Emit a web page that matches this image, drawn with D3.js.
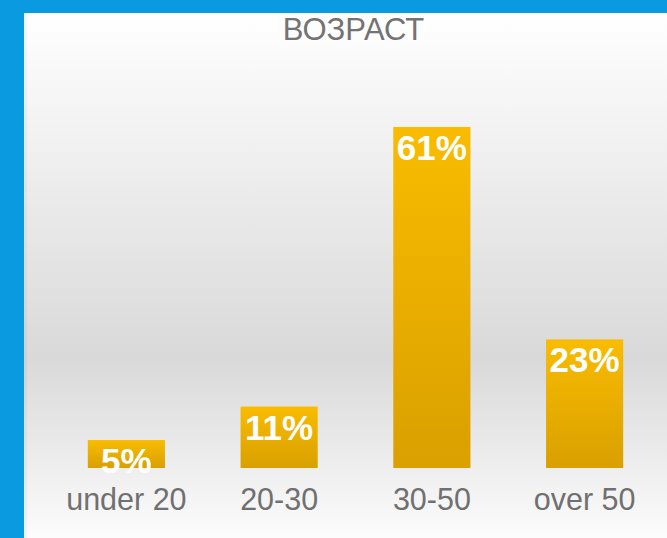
<!DOCTYPE html>
<html>
<head>
<meta charset="utf-8">
<script src="https://cdn.jsdelivr.net/npm/d3@7"></script>
<style>
    body { margin: 0; background: #0a9ae0; }
    svg { display: block; }
</style>
</head>
<body>
<div id="chart"></div>
<script>
// Chart data
var title = "ВОЗРАСТ";
var categories = ["under 20", "20-30", "30-50", "over 50"];
var values = [5, 11, 61, 23];
var valueLabels = ["5%", "11%", "61%", "23%"];

(function() {
    var width = 667, height = 538;
    var panel = { left: 24, top: 13 };

    var svg = d3.select("#chart").append("svg")
        .attr("width", width)
        .attr("height", height);

    var defs = svg.append("defs");

    // Panel background: white -> grey -> white
    var bg = defs.append("linearGradient")
        .attr("id", "bgGrad")
        .attr("x1", 0).attr("y1", 0).attr("x2", 0).attr("y2", 1);
    bg.append("stop").attr("offset", "0%").attr("stop-color", "#ffffff");
    bg.append("stop").attr("offset", "66%").attr("stop-color", "#d9d9d9");
    bg.append("stop").attr("offset", "100%").attr("stop-color", "#fcfcfc");

    // Bar fill: bright amber at top, darker at bottom
    var barGrad = defs.append("linearGradient")
        .attr("id", "barGrad")
        .attr("x1", 0).attr("y1", 0).attr("x2", 0).attr("y2", 1);
    barGrad.append("stop").attr("offset", "0%").attr("stop-color", "#f9bc00");
    barGrad.append("stop").attr("offset", "100%").attr("stop-color", "#d9a000");

    svg.append("rect")
        .attr("x", panel.left)
        .attr("y", panel.top)
        .attr("width", width - panel.left)
        .attr("height", height - panel.top)
        .attr("fill", "url(#bgGrad)");

    // faint inner edge
    svg.append("line")
        .attr("x1", panel.left + 1.5).attr("x2", panel.left + 1.5)
        .attr("y1", panel.top).attr("y2", height)
        .attr("stroke", "#000").attr("stroke-opacity", 0.04).attr("stroke-width", 3);

    var x = d3.scaleBand()
        .domain(categories)
        .range([50, 661])
        .paddingInner(0.495)
        .paddingOuter(0.2475);

    var y = d3.scaleLinear()
        .domain([0, 61])
        .range([468, 127]);

    svg.append("text")
        .attr("x", 353.5)
        .attr("y", 40)
        .attr("text-anchor", "middle")
        .attr("font-family", "Liberation Sans, Arial, sans-serif")
        .attr("font-size", 31)
        .attr("fill", "#737373")
        .text(title);

    var bars = svg.selectAll("g.bar")
        .data(values)
        .enter().append("g")
        .attr("class", "bar");

    bars.append("rect")
        .attr("x", function(d, i) { return x(categories[i]); })
        .attr("y", function(d) { return y(d); })
        .attr("width", x.bandwidth())
        .attr("height", function(d) { return y(0) - y(d); })
        .attr("fill", "url(#barGrad)");

    bars.append("text")
        .attr("x", function(d, i) { return x(categories[i]) + x.bandwidth() / 2; })
        .attr("y", function(d) { return y(d) + 33; })
        .attr("text-anchor", "middle")
        .attr("font-family", "Liberation Sans, Arial, sans-serif")
        .attr("font-weight", "bold")
        .attr("font-size", 35)
        .attr("fill", "#ffffff")
        .text(function(d, i) { return valueLabels[i]; });

    // category labels (axis without line/ticks)
    var xAxis = d3.axisBottom(x).tickSize(0).tickPadding(0);
    var axisG = svg.append("g")
        .attr("transform", "translate(0," + y(0) + ")")
        .call(xAxis);
    axisG.select(".domain").remove();
    axisG.selectAll("text")
        .attr("dy", null)
        .attr("y", 42)
        .attr("font-family", "Liberation Sans, Arial, sans-serif")
        .attr("font-size", 30.5)
        .attr("fill", "#707070");
})();
</script>
</body>
</html>
